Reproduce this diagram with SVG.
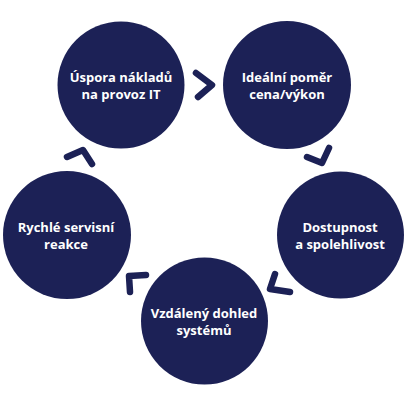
<svg xmlns="http://www.w3.org/2000/svg" width="405" height="406" viewBox="0 0 405 406">
<style>
.c{fill:#1c2156}
.t{font-family:"Open Sans","DejaVu Sans",sans-serif;font-weight:700;font-size:13px;fill:#ffffff;text-anchor:middle}
.a{fill:none;stroke:#1c2156;stroke-width:6.5;stroke-linecap:round;stroke-linejoin:round}
</style>
<rect width="405" height="406" fill="#ffffff"/>
<g id="n1"><circle class="c" cx="121" cy="85" r="63.5"/><text class="t" x="121" y="82">Úspora nákladů</text><text class="t" x="121" y="99">na provoz IT</text></g>
<g id="n2"><circle class="c" cx="287" cy="85" r="64"/><text class="t" x="287" y="82">Ideální poměr</text><text class="t" x="287" y="99">cena/výkon</text></g>
<g id="n3"><circle class="c" cx="340.5" cy="235" r="63.5"/><text class="t" x="340" y="232">Dostupnost</text><text class="t" x="340" y="249">a spolehlivost</text></g>
<g id="n4"><circle class="c" cx="204.5" cy="321" r="63.5"/><text class="t" x="204" y="318">Vzdálený dohled</text><text class="t" x="204" y="335">systémů</text></g>
<g id="n5"><circle class="c" cx="67" cy="235" r="64"/><text class="t" x="66" y="232">Rychlé servisní</text><text class="t" x="66" y="249">reakce</text></g>
<g id="connectors">
<polyline class="a" points="196,73 212,85 198,97"/>
<polyline class="a" points="329,148 322,163 307,157"/>
<polyline class="a" points="275,274 270,289 290,292"/>
<polyline class="a" points="146,275 129,276 130,292"/>
<polyline class="a" points="67,157 83,150 92,164"/>
</g>
</svg>
